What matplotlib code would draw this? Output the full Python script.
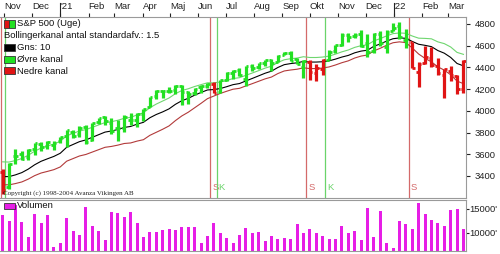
import matplotlib
matplotlib.use("Agg")
import matplotlib.pyplot as plt
import matplotlib.transforms as mtransforms
from matplotlib.patches import Rectangle
import pandas as pd

plt.rcParams['font.family'] = ['Liberation Sans', 'DejaVu Sans']

# ---------------- data ----------------
weeks = pd.date_range("2020-10-30", periods=73, freq="W-FRI")

opens = [3441,3296,3584,3600,3579,3645,3698,3675,3684,3723,3764,3803,3788,3855,3731,3894,3939,3886,3842,3844,
         3916,3917,3969,4034,4138,4185,4185,4192,4228,4170,4165,4216,4229,4248,4174,4285,4344,4372,4296,4410,
         4406,4438,4465,4450,4513,4536,4474,4402,4449,4348,4385,4464,4553,4610,4701,4689,4712,4628,4548,4710,
         4589,4733,4778,4656,4632,4357,4437,4484,4413,4332,4364,4322,4202]
highs = [3464,3521,3645,3628,3645,3699,3712,3726,3723,3760,3826,3819,3859,3870,3887,3937,3950,3932,3915,3960,
         3983,3978,4020,4129,4191,4194,4218,4238,4236,4187,4213,4234,4255,4262,4286,4356,4372,4394,4415,4430,
         4441,4468,4480,4513,4546,4549,4486,4465,4466,4429,4475,4559,4608,4718,4715,4718,4744,4705,4713,4732,
         4740,4808,4818,4749,4632,4453,4595,4590,4489,4385,4416,4327,4465]
lows = [3233,3279,3511,3543,3551,3594,3633,3647,3636,3707,3663,3749,3759,3694,3725,3874,3865,3789,3723,3806,
        3871,3853,3908,4034,4111,4119,4165,4154,4057,4062,4150,4168,4213,4164,4165,4279,4289,4322,4233,4368,
        4385,4416,4367,4450,4513,4459,4429,4306,4288,4278,4330,4464,4537,4595,4630,4672,4585,4495,4532,4600,
        4532,4733,4662,4582,4395,4223,4435,4401,4326,4115,4279,4157,4161]
closes = [3270,3509,3585,3558,3638,3699,3663,3709,3703,3756,3824,3768,3841,3714,3886,3934,3906,3811,3842,3943,
          3913,3975,4020,4129,4185,4180,4181,4233,4174,4156,4204,4230,4247,4166,4281,4352,4370,4327,4412,4395,
          4437,4468,4442,4509,4535,4459,4433,4455,4357,4391,4471,4545,4605,4697,4683,4698,4595,4538,4712,4620,
          4725,4766,4677,4662,4398,4432,4500,4419,4349,4385,4329,4204,4463]

# 10-week average (black line)
mid = [3394,3394,3410,3431,3463,3503,3535,3558,3580,3609,3664,3690,3716,3732,3756,3780,3804,3814,3828,3847,
       3856,3877,3894,3936,3966,3990,4018,4060,4093,4115,4144,4169,4192,4196,4205,4222,4241,4251,4275,4298,
       4322,4346,4365,4399,4425,4435,4442,4455,4449,4449,4452,4460,4476,4495,4510,4534,4550,4558,4594,4616,
       4642,4664,4671,4668,4639,4613,4603,4591,4555,4531,4492,4436,4414]
# channel distance above / below the average
band_up = [136,134,132,130,128,125,122,118,114,110,106,102,98,95,92,90,88,86,85,84,
           84,85,88,92,96,100,100,98,94,88,80,72,66,62,60,58,56,54,52,50,
           48,47,46,46,45,45,44,43,42,42,43,44,46,48,50,50,50,50,50,49,
           48,47,46,46,50,56,64,72,80,88,96,102,106]
band_dn = [74,76,80,86,92,100,108,116,122,126,128,130,132,134,136,138,140,142,144,148,
           152,156,160,162,164,160,157,150,140,128,116,100,80,60,45,42,42,44,46,48,
           50,52,54,56,58,59,59,59,60,60,58,56,54,52,50,48,46,44,42,40,
           38,37,36,40,60,90,120,140,150,156,160,162,164]
upper = [m + u for m, u in zip(mid, band_up)]
lower = [m - d for m, d in zip(mid, band_dn)]

# signal per bar: S = sell (red), K = buy (green)
bar_signal = "S" + "K" * 32 + "S" + "K" * 14 + "SSS" + "K" * 13 + "S" * 9
signal_dates = ["2020-10-28", "2020-11-02", "2021-06-14", "2021-06-21",
                "2021-09-27", "2021-10-18", "2022-01-17"]
signal_types = ["S", "K", "S", "K", "S", "K", "S"]
signal_labeled = [False, False, True, True, True, True, True]

# volume (thousands)
volume = [13750,12560,15830,12350,9100,13900,12020,13690,7150,7980,13060,10480,9580,15480,11460,10480,8540,14440,14230,13270,
          14440,12150,9100,10150,10210,10630,10770,10630,11190,11190,11310,7980,9380,12020,10060,8900,7850,9520,10980,10060,
          10270,8400,9440,8690,8900,8690,11810,10060,10770,10060,9440,8750,8750,11460,9940,10420,8540,15270,9100,14650,
          7980,6810,12500,11810,10830,16190,13960,12710,12020,11460,14790,15000,10770]

month_starts = pd.date_range("2020-11-01", "2022-03-01", freq="MS")
month_names = ["Jan", "Feb", "Mar", "Apr", "Maj", "Jun", "Jul", "Aug", "Sep", "Okt", "Nov", "Dec"]
month_labels = [("'" + str(d.year)[2:]) if d.month == 1 else month_names[d.month - 1] for d in month_starts]
price_ticks = [3400, 3600, 3800, 4000, 4200, 4400, 4600, 4800]
vol_ticks = [10000, 15000]
vol_labels = ["10000'", "15000'"]

# ---------------- style ----------------
GREEN = "#22e022"
RED = "#e01414"
UP_LINE = "#6fd66f"
LO_LINE = "#b23a3a"
SIG_RED = "#d46a6a"
SIG_GREEN = "#6ad46a"
MAGENTA = "#e61ee6"
FRAME = "#9a9a9a"
FS = 6.8

W, H = 500, 254
fig = plt.figure(figsize=(W / 100, H / 100), dpi=100)
fig.patch.set_facecolor("white")

def fx(px):
    return px / W

def fy(py):
    return 1 - py / H

ax = fig.add_axes([0, fy(198), fx(466), fy(17) - fy(198)])
axv = fig.add_axes([0, fy(251), fx(466), fy(200) - fy(251)])

day = pd.Timedelta(days=1)
xmin = weeks[0] - 2.9 * day
xmax = weeks[-1] + 2.8 * day

# signal lines
shift = mtransforms.ScaledTranslation(1.5 / 72, 0, fig.dpi_scale_trans)
for d, t, lab in zip(signal_dates, signal_types, signal_labeled):
    c = SIG_RED if t == "S" else SIG_GREEN
    ax.axvline(pd.Timestamp(d), color=c, lw=0.9, zorder=1)
    if lab:
        ax.text(pd.Timestamp(d), 0.035, t, color=c, fontsize=FS, ha="left", va="bottom", zorder=1,
                transform=ax.get_xaxis_transform() + shift)

# bands
ax.plot(weeks, upper, color=UP_LINE, lw=0.8, zorder=2)
ax.plot(weeks, lower, color=LO_LINE, lw=0.8, zorder=2)
ax.plot(weeks, mid, color="black", lw=0.8, zorder=2)

# OHLC bars
tick = 2.8 * day
for d, o, h, l, c, s in zip(weeks, opens, highs, lows, closes, bar_signal):
    col = RED if s == "S" else GREEN
    ax.vlines(d, l, h, color=col, lw=2.3, zorder=3)
    ax.hlines(o, d - tick, d, color=col, lw=2.0, zorder=3)
    ax.hlines(c, d, d + tick, color=col, lw=2.0, zorder=3)

ax.set_xlim(xmin, xmax)
ax.set_ylim(3197, 4864)

ax.xaxis.tick_top()
ax.set_xticks(month_starts)
ax.set_xticklabels(month_labels, ha="left")
off = mtransforms.ScaledTranslation(2.2 / 72, 0, fig.dpi_scale_trans)
for lab in ax.get_xticklabels():
    lab.set_transform(lab.get_transform() + off)
ax.tick_params(axis="x", which="major", top=True, bottom=False, length=3, width=0.8,
               pad=1.5, labelsize=FS, colors="#222222")
for d in month_starts:
    if d.month == 1:
        ax.plot([d, d], [1.0, 1.078], transform=ax.get_xaxis_transform(), clip_on=False,
                color="#222222", lw=0.8)

ax.yaxis.tick_right()
ax.set_yticks(price_ticks)
ax.set_yticklabels([str(v) for v in price_ticks])
ax.tick_params(axis="y", right=True, left=False, length=3, width=0.8, pad=3.5,
               labelsize=FS, colors="#222222")

for a in (ax, axv):
    a.spines["left"].set_visible(False)
    for sp in ("top", "right", "bottom"):
        a.spines[sp].set_color(FRAME)
        a.spines[sp].set_linewidth(0.8)

# volume
axv.bar(weeks, volume, width=3.2, color=MAGENTA, zorder=2)
axv.set_xlim(xmin, xmax)
axv.set_ylim(6250, 16875)
axv.set_xticks([])
axv.yaxis.tick_right()
axv.set_yticks(vol_ticks)
axv.set_yticklabels(vol_labels)
axv.tick_params(axis="y", right=True, left=False, length=2, width=0.8, pad=0.5,
                labelsize=FS, colors="#222222")

# legend (price)
def box(x0, y0, x1, y1, fc, ec="#333333"):
    fig.patches.append(Rectangle((fx(x0), fy(y1)), fx(x1) - fx(x0), fy(y0) - fy(y1),
                                 transform=fig.transFigure, facecolor=fc, edgecolor=ec,
                                 lw=0.6, zorder=10))

box(3.5, 20.5, 9, 27.5, RED)
box(9, 20.5, 14.5, 27.5, GREEN)
fig.text(fx(17), fy(24), "S&P 500 (Uge)", fontsize=FS, va="center", ha="left", color="#111111", zorder=11)
fig.text(fx(4), fy(35.5), "Bollingerkanal antal standardafv.: 1.5", fontsize=FS, va="center", ha="left",
         color="#111111", zorder=11)
box(3.5, 44, 14.5, 51, "black")
fig.text(fx(17), fy(47.5), "Gns: 10", fontsize=FS, va="center", ha="left", color="#111111", zorder=11)
box(3.5, 56, 14.5, 63, GREEN)
fig.text(fx(17), fy(59.5), "Øvre kanal", fontsize=FS, va="center", ha="left", color="#111111", zorder=11)
box(3.5, 67.5, 14.5, 74.5, RED)
fig.text(fx(17), fy(71), "Nedre kanal", fontsize=FS, va="center", ha="left", color="#111111", zorder=11)

fig.text(fx(3), fy(193), "Copyright (c) 1998-2004 Avanza Vikingen AB", fontsize=5.0,
         family="Liberation Serif", va="center", ha="left", color="#222222", zorder=11)

# legend (volume)
box(3.5, 202.5, 14.5, 208.5, MAGENTA)
fig.text(fx(17), fy(206), "Volumen", fontsize=FS, va="center", ha="left", color="#111111", zorder=11)

fig.savefig("out.png", dpi=100, facecolor="white")
